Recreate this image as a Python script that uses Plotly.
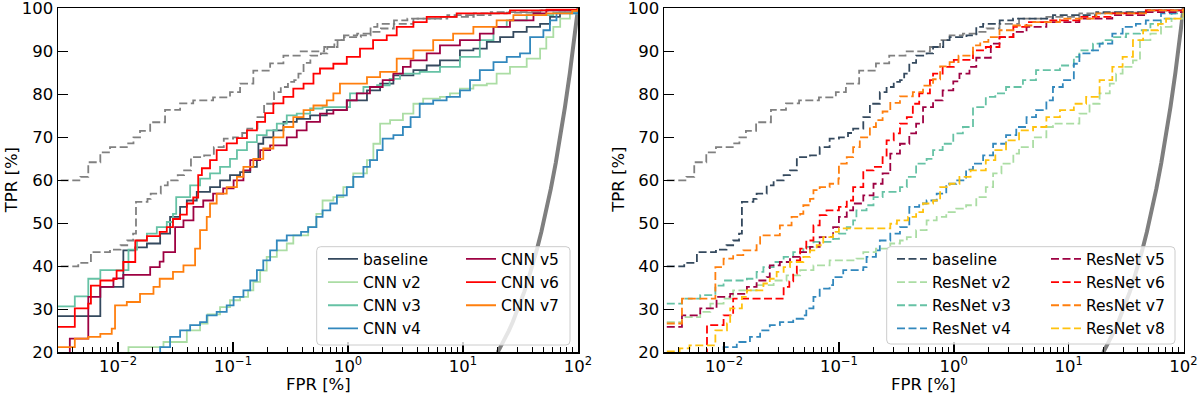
import plotly.graph_objects as go

# ------------------------------------------------------------------ data
# chance line (TPR = FPR)
chance_fpr = [20, 21, 22, 23.5, 25, 27, 29, 31.5, 34, 37, 40, 44, 48, 53, 58, 64, 70, 77, 85, 92, 100]
chance_tpr = [20, 21, 22, 23.5, 25, 27, 29, 31.5, 34, 37, 40, 44, 48, 53, 58, 64, 70, 77, 85, 92, 100]

# grey dashed reference curve (both panels)
ref_fpr = [0.002, 0.0047, 0.0055, 0.007, 0.0085, 0.0119, 0.0136, 0.0155, 0.019, 0.0256,
           0.0346, 0.045, 0.067, 0.094, 0.115, 0.15, 0.21, 0.274, 0.38, 0.62,
           0.76, 0.92, 1.2, 1.58, 1.93, 2.5, 3.7, 6.4, 12.4, 24, 47, 100]
ref_tpr = [60, 60.8, 64.2, 66.5, 67.7, 68.6, 70, 71.5, 73.5, 76.4,
           77.9, 78.6, 79.3, 80.5, 82.5, 85.5, 87.2, 89, 90, 91,
           92.6, 93.7, 94.1, 94.5, 95.3, 96.4, 97.6, 98, 98.8, 99, 99.5, 100]

# ---- CNN models (left panel)
cnn_base_fpr = [0.002, 0.007, 0.0111, 0.0141, 0.0178, 0.0232, 0.0283, 0.0346, 0.0396, 0.0483,
                0.063, 0.077, 0.094, 0.115, 0.141, 0.161, 0.166, 0.183, 0.224, 0.274,
                0.358, 0.468, 0.653, 0.975, 1.46, 1.9, 2.48, 3.7, 4.83, 6.3,
                9.4, 12.3, 16.1, 21, 27.4, 35.8, 46.8, 57.1, 69.7, 100]
cnn_base_tpr = [28.4, 35.2, 43.7, 44.4, 45.3, 47.6, 51.5, 53.8, 55.3, 57.3,
                58.4, 60, 61.2, 61.9, 63.1, 64.7, 68.5, 70, 71.6, 73.6,
                74.3, 75.1, 76.3, 78.6, 80.9, 82.5, 84.4, 85.6, 86.7, 87.9,
                90.2, 90.6, 92.2, 93.3, 94.5, 95.7, 96.4, 98, 99, 100]

cnn_v2_fpr = [0.002, 0.0123, 0.0248, 0.0396, 0.0516, 0.06, 0.077, 0.094, 0.115, 0.135,
              0.15, 0.172, 0.196, 0.24, 0.293, 0.334, 0.45, 0.53, 0.6, 0.745,
              0.91, 1.11, 1.46, 1.66, 1.9, 2.32, 3.0, 3.7, 4.5, 6.3,
              7.7, 9.4, 12.3, 16.1, 19.6, 25.6, 35.8, 46.8, 53, 61,
              70, 85, 100]
cnn_v2_tpr = [15, 21.2, 22.4, 25.1, 26.7, 28.8, 30.5, 32.1, 32.9, 34.4,
              36.4, 39, 42.2, 43.7, 45.3, 47.2, 49.1, 52.2, 55.3, 56.1,
              58.4, 61.6, 64.7, 68.5, 73.2, 74, 75.5, 77.8, 79, 79.4,
              80.2, 81.3, 82.1, 82.5, 84.8, 86.4, 88.3, 90.6, 93.3, 95.7,
              97.6, 98.8, 100]

cnn_v3_fpr = [0.002, 0.0042, 0.0055, 0.0070, 0.0123, 0.0146, 0.0178, 0.0217, 0.0265, 0.030,
              0.032, 0.0423, 0.0516, 0.063, 0.077, 0.094, 0.108, 0.132, 0.161, 0.196,
              0.24, 0.293, 0.358, 0.468, 0.6, 1.04, 1.36, 1.79, 2.3, 2.83,
              4.2, 6.3, 9.4, 14, 18.4, 24, 35.8, 61, 100]
cnn_v3_tpr = [30.7, 33, 37.1, 39.1, 43.9, 46, 47.6, 49.1, 50.3, 52.2,
              56.1, 58.8, 60.4, 61.6, 63.1, 65, 67, 68.9, 70.5, 71.6,
              73.2, 75.1, 75.5, 76.7, 77, 80.2, 81.7, 82.1, 83.6, 84.8,
              85.2, 86.4, 88.7, 92.6, 95.7, 97.2, 98.4, 99, 100]

cnn_v4_fpr = [0.002, 0.0232, 0.0283, 0.0346, 0.0423, 0.0516, 0.059, 0.072, 0.088, 0.101, 0.123,
              0.141, 0.161, 0.183, 0.21, 0.24, 0.293, 0.39, 0.45, 0.53, 0.6,
              0.7, 0.8, 0.975, 1.11, 1.36, 1.55, 1.79, 2.0, 2.48, 3.0,
              3.5, 4.2, 5.5, 7.2, 9.4, 11.5, 14, 18.4, 24, 31.3,
              38.3, 50, 57, 65, 100]
cnn_v4_tpr = [15, 21.2, 23.6, 25.1, 26.3, 27, 28.6, 29.4, 30.9, 32.9, 34.4,
              36.7, 39.1, 41.4, 43.7, 46, 47.2, 48, 49.1, 51.5, 53,
              54.6, 56.5, 58.4, 60.8, 63.1, 64.7, 67, 69.7, 70.5, 72.4,
              74.7, 77.8, 78.6, 79.4, 80.9, 83.3, 85.6, 87.5, 88.7, 89.5,
              93.3, 94.9, 97.2, 98.8, 100]

cnn_v5_fpr = [0.002, 0.0038, 0.0055, 0.0070, 0.0091, 0.0111, 0.019, 0.023, 0.0248, 0.0313,
              0.037, 0.0452, 0.055, 0.067, 0.082, 0.101, 0.123, 0.141, 0.172, 0.21,
              0.293, 0.358, 0.436, 0.57, 0.745, 0.975, 1.19, 1.55, 2.0, 2.48,
              3.0, 3.5, 4.83, 6.3, 9.4, 14, 18.4, 25.6, 41, 53, 100]
cnn_v5_tpr = [18, 23.2, 32.9, 35.2, 37.2, 38, 39.8, 41.1, 43.3, 49.1,
              50.7, 53.8, 55.3, 56.9, 58.1, 60, 62.3, 64.7, 67, 68.1,
              70, 71.6, 73.6, 75.5, 76.3, 78.6, 80.2, 81.7, 83.3, 84.8,
              86.4, 87.9, 89.5, 91.4, 92.6, 94.1, 95.7, 97.2, 98.8, 99.5, 100]

cnn_v6_fpr = [0.002, 0.0042, 0.0055, 0.0058, 0.0070, 0.0091, 0.0097, 0.0111, 0.0141, 0.0178,
              0.023, 0.0265, 0.030, 0.0346, 0.0396, 0.045, 0.0497, 0.0535, 0.063, 0.072,
              0.088, 0.108, 0.132, 0.161, 0.19, 0.224, 0.274, 0.334, 0.41, 0.50,
              0.57, 0.745, 0.975, 1.27, 1.65, 2.17, 2.65, 3.7, 4.83, 8.8,
              25.6, 53.4, 100]
cnn_v6_tpr = [25.9, 30.2, 31.3, 35.5, 36.7, 37, 39, 41, 46, 47,
              48, 49.1, 51, 52, 54.6, 56, 61.2, 62.8, 64.7, 67,
              68.6, 69.8, 71.6, 73.6, 75.6, 77.9, 79.4, 81.3, 82.5, 84.8,
              86, 87.1, 88.7, 90.6, 92.6, 93.7, 95.7, 96.8, 98, 98.8,
              99.5, 99.7, 100]

cnn_v7_fpr = [0.002, 0.0042, 0.0055, 0.007, 0.0088, 0.0094, 0.0119, 0.0155, 0.0203, 0.023,
              0.030, 0.037, 0.0467, 0.0516, 0.059, 0.063, 0.072, 0.088, 0.108, 0.123,
              0.15, 0.183, 0.224, 0.274, 0.334, 0.41, 0.50, 0.653, 0.745, 0.85,
              1.46, 1.9, 2.65, 3.7, 5.5, 8.2, 12.3, 19.6, 27.4, 53,
              89, 100]
cnn_v7_tpr = [21.2, 23.2, 23.6, 24.3, 25.5, 30.9, 31.7, 33.6, 35.2, 37.1,
              38.7, 40.2, 44.1, 48.4, 51.5, 54.6, 56.9, 58.4, 60.8, 63.1,
              65, 67.4, 70, 72.4, 74.7, 76.3, 77.4, 78.6, 80.2, 82.5,
              84, 85.2, 88.3, 90.2, 92.6, 94.1, 95.7, 97.2, 98.4, 98.8,
              99.4, 100]

# ---- ResNet models (right panel)
res_base_fpr = [0.002, 0.0045, 0.0058, 0.0085, 0.0105, 0.012, 0.0135, 0.0143, 0.018, 0.0192,
                0.0235, 0.027, 0.033, 0.0375, 0.043, 0.056, 0.068, 0.083, 0.1, 0.12,
                0.133, 0.163, 0.186, 0.227, 0.26, 0.3, 0.34, 0.37, 0.41, 0.47, 0.58,
                0.66, 0.81, 0.92, 1.29, 1.57, 1.8, 2.51, 3.28, 7.3, 17.4,
                47, 100]
res_base_tpr = [40, 40.8, 43.3, 43.9, 44.9, 46, 47.6, 55, 55.7, 56.9,
                58.8, 60, 61.2, 62.3, 65.4, 65.8, 67.7, 69.7, 70, 71,
                72, 74.7, 77.8, 80.5, 81.7, 82.9, 83.3, 84.8, 87.3, 89, 89.5,
                91, 92.6, 93.3, 93.7, 95.7, 96.4, 97.2, 97.6, 98.4, 99.1,
                99.5, 100]

res_v2_fpr = [0.002, 0.0043, 0.0062, 0.0076, 0.0099, 0.012, 0.0192, 0.027, 0.035, 0.046,
              0.06, 0.083, 0.142, 0.163, 0.21, 0.28, 0.34, 0.39, 0.47, 0.58,
              0.71, 0.86, 1.05, 1.28, 1.57, 1.9, 2.2, 2.6, 3.3, 3.7,
              4.9, 6.4, 7.3, 12.4, 15.2, 18.6, 22.8, 25.9, 29.5, 36.3,
              41.8, 51.5, 63.7, 78.7, 100]
res_v2_tpr = [27, 28.2, 29.4, 31.3, 32.5, 34.4, 35.6, 36.7, 37.9, 39.1,
              40.2, 41.4, 41.8, 43.3, 44.1, 45.3, 46, 46.8, 48.4, 50.7,
              51.5, 52.6, 53.4, 54.2, 56.1, 58.4, 61.6, 63.9, 66.2, 67.7,
              70, 72.4, 73.2, 75.5, 77.8, 80.2, 82.5, 84.8, 86.4, 87.9,
              92.6, 94.1, 95.7, 97.6, 100]

res_v3_fpr = [0.002, 0.0043, 0.0062, 0.0084, 0.0099, 0.0158, 0.0192, 0.022, 0.027, 0.033,
              0.04, 0.049, 0.06, 0.089, 0.1, 0.117, 0.133, 0.142, 0.174, 0.2,
              0.24, 0.34, 0.39, 0.47, 0.58, 0.66, 0.8, 0.99, 1.2, 1.47,
              1.9, 2.3, 2.85, 4.0, 5.2, 8.4, 11.1, 12.4, 16.3, 19.8,
              24, 31.6, 41.8, 51.5, 63.7, 78.7, 100]
res_v3_tpr = [31.3, 32.5, 33.3, 35.5, 36.7, 37.1, 38.7, 39.8, 41, 42.2,
              43.3, 44.5, 45.7, 46.4, 47.6, 49.1, 50.7, 53, 54.2, 56.1,
              57.3, 58.4, 60.8, 63.9, 65, 67, 68.5, 70.9, 72.4, 77,
              79.4, 80.2, 81.7, 83.3, 85.6, 86.7, 88.7, 90.2, 91.8, 92.6,
              93.3, 94.1, 94.9, 96.4, 97.6, 98.8, 100]

res_v4_fpr = [0.002, 0.0099, 0.0129, 0.0168, 0.0206, 0.025, 0.0306, 0.04, 0.049, 0.052, 0.06,
              0.068, 0.083, 0.089, 0.109, 0.163, 0.174, 0.21, 0.227, 0.28, 0.34,
              0.41, 0.5, 0.58, 0.71, 0.86, 1.05, 1.28, 1.47, 1.8, 2.2,
              2.85, 3.5, 4.3, 5.2, 6.4, 7.3, 8.9, 11.1, 12.4, 15.2,
              18.6, 24, 29.5, 38.5, 47, 63.7, 85, 100]
res_v4_tpr = [15, 21.2, 22.4, 23.6, 25.1, 26.3, 27, 27.8, 28.6, 30.2, 32.9,
              34.8, 35.6, 37.5, 39.1, 39.8, 42.2, 43.7, 46, 47.6, 49.1,
              53.8, 54.6, 55.3, 56.9, 59.2, 60, 62.5, 63.9, 65.8, 68.5,
              70.5, 72.4, 74.7, 76.3, 78.6, 81.7, 83.3, 87.1, 89.5, 90.2,
              91.8, 94.1, 95.7, 96.4, 97.2, 98.8, 99.5, 100]

res_v5_fpr = [0.002, 0.0043, 0.0062, 0.0086, 0.0113, 0.0158, 0.0192, 0.0235, 0.025, 0.0306,
              0.0375, 0.046, 0.056, 0.068, 0.089, 0.1, 0.117, 0.133, 0.163, 0.2,
              0.24, 0.28, 0.34, 0.41, 0.47, 0.54, 0.66, 0.8, 0.99, 1.12,
              1.37, 1.57, 2.1, 2.5, 3.3, 4.3, 6.4, 12.4, 24, 47, 100]
res_v5_tpr = [25.9, 28.6, 30.2, 32.9, 33.6, 35.2, 36.7, 37.5, 40.2, 41,
              42.2, 43.3, 44.5, 46.8, 49.1, 51.5, 53, 54.6, 56.5, 59.2,
              61.6, 66.2, 68.5, 70.9, 73.2, 77, 78.6, 80.9, 83, 84.8,
              86.4, 88.5, 91.8, 93.3, 94.5, 95.7, 96.8, 97.6, 98.4, 99.1, 100]

res_v6_fpr = [0.002, 0.0071, 0.0099, 0.012, 0.033, 0.037, 0.04, 0.043, 0.046, 0.052,
              0.06, 0.068, 0.078, 0.1, 0.117, 0.133, 0.163, 0.2, 0.24, 0.26,
              0.3, 0.34, 0.39, 0.44, 0.5, 0.62, 0.66, 0.8, 1.0, 1.47,
              1.9, 2.5, 3.3, 4.3, 6.4, 12.4, 24, 47, 100]
res_v6_tpr = [15, 26.3, 28.6, 32.5, 35.2, 36.5, 38.3, 41.4, 44.1, 46,
              49.5, 51.9, 53, 53.8, 55.3, 58.4, 62.3, 63.1, 65.4, 69.3,
              70.9, 73.2, 74.7, 77.8, 80.2, 83.3, 84.8, 86.4, 88, 90.2,
              91, 93.3, 95.7, 96.8, 97.2, 98, 98.8, 99.5, 100]

res_v7_fpr = [0.002, 0.0043, 0.0084, 0.0099, 0.012, 0.0147, 0.0192, 0.0206, 0.0306, 0.0387,
              0.046, 0.049, 0.056, 0.06, 0.068, 0.083, 0.099, 0.1, 0.117, 0.133,
              0.152, 0.186, 0.21, 0.24, 0.28, 0.34, 0.44, 0.54, 0.66, 0.76,
              0.92, 1.1, 1.47, 1.7, 2.0, 2.5, 3.3, 4.9, 8.4, 17.4,
              47, 100]
res_v7_tpr = [26.7, 32.5, 39.8, 41.8, 42.6, 43.7, 45.3, 47.2, 49.5, 51.5,
              52.2, 54.2, 55.7, 57.7, 58.4, 59.2, 60.4, 63.9, 65.4, 67.7,
              70, 72.4, 74, 76, 78, 79.5, 80.5, 82, 83.5, 86.5,
              87.5, 89, 91.4, 92.2, 93.3, 94.9, 96, 96.8, 97.6, 98.8,
              99.5, 100]

res_v8_fpr = [0.002, 0.0041, 0.005, 0.0084, 0.0106, 0.0113, 0.0143, 0.0158, 0.022, 0.025,
              0.0287, 0.033, 0.0375, 0.049, 0.056, 0.064, 0.073, 0.089, 0.1, 0.28,
              0.32, 0.4, 0.47, 0.54, 0.66, 0.76, 0.92, 1.12, 1.4, 1.9,
              2.3, 2.85, 3.7, 4.9, 6.4, 8.4, 11.1, 14.2, 18.6, 24,
              29.5, 36.3, 44.5, 60, 70.5, 100]
res_v8_tpr = [20.2, 20.9, 21.6, 25.1, 26.7, 30.2, 32.9, 34.4, 36, 37.1,
              38.7, 39.8, 41, 42.2, 43.7, 44.9, 46.8, 48, 48.8, 49.9,
              50.7, 51.5, 52.6, 54.6, 55.3, 58.4, 59.2, 60.8, 62.3, 64.7,
              67, 69.3, 71.6, 72.4, 74.7, 76.3, 77.8, 79.4, 83.3, 86.4,
              88.7, 92.6, 94.9, 96.4, 97.6, 100]

x_tickvals = [0.01, 0.1, 1, 10, 100]
x_ticktext = ["10<sup>−2</sup>", "10<sup>−1</sup>", "10<sup>0</sup>", "10<sup>1</sup>", "10<sup>2</sup>"]
y_tickvals = [20, 30, 40, 50, 60, 70, 80, 90, 100]

# ------------------------------------------------------------------ style
W, H = 1200, 395
FONT = "DejaVu Sans"
C = {"base": "#34495e", "v2": "#abdda4", "v3": "#66c2a5", "v4": "#3288bd",
     "v5": "#9e0142", "v6": "#ff0000", "v7": "#ff7f0e", "v8": "#ffc20e"}
GREY = "#808080"
DASH = "8px,3.5px"
LW = 1.8


def px(p):
    return p / W


def py(p):
    return 1 - p / H


fig = go.Figure()


def add_curve(x, y, color, dash, name, panel, legend=None, show=False, width=LW, shape="hv"):
    fig.add_trace(go.Scatter(
        x=x, y=y, mode="lines", name=name,
        xaxis="x" if panel == 1 else "x2", yaxis="y" if panel == 1 else "y2",
        line=dict(color=color, width=width, dash=dash, shape=shape),
        showlegend=show, legend=legend if legend else "legend", hoverinfo="skip"))


# chance line
for panel in (1, 2):
    add_curve(chance_fpr, chance_tpr, "#7f7f7f", "solid", "chance", panel, width=4, shape="linear")

# left panel
add_curve(ref_fpr, ref_tpr, GREY, DASH, "reference", 1)
add_curve(res_base_fpr, res_base_tpr, GREY, DASH, "ResNet baseline", 1)
add_curve(cnn_base_fpr, cnn_base_tpr, C["base"], "solid", "baseline", 1, "legend", True)
add_curve(cnn_v2_fpr, cnn_v2_tpr, C["v2"], "solid", "CNN v2", 1, "legend", True)
add_curve(cnn_v3_fpr, cnn_v3_tpr, C["v3"], "solid", "CNN v3", 1, "legend", True)
add_curve(cnn_v4_fpr, cnn_v4_tpr, C["v4"], "solid", "CNN v4", 1, "legend", True)
add_curve(cnn_v5_fpr, cnn_v5_tpr, C["v5"], "solid", "CNN v5", 1, "legend2", True)
add_curve(cnn_v6_fpr, cnn_v6_tpr, C["v6"], "solid", "CNN v6", 1, "legend2", True)
add_curve(cnn_v7_fpr, cnn_v7_tpr, C["v7"], "solid", "CNN v7", 1, "legend2", True)

# right panel
add_curve(ref_fpr, ref_tpr, GREY, DASH, "reference", 2)
add_curve(res_base_fpr, res_base_tpr, C["base"], DASH, "baseline", 2, "legend3", True)
add_curve(res_v2_fpr, res_v2_tpr, C["v2"], DASH, "ResNet v2", 2, "legend3", True)
add_curve(res_v3_fpr, res_v3_tpr, C["v3"], DASH, "ResNet v3", 2, "legend3", True)
add_curve(res_v4_fpr, res_v4_tpr, C["v4"], DASH, "ResNet v4", 2, "legend3", True)
add_curve(res_v5_fpr, res_v5_tpr, C["v5"], DASH, "ResNet v5", 2, "legend4", True)
add_curve(res_v6_fpr, res_v6_tpr, C["v6"], DASH, "ResNet v6", 2, "legend4", True)
add_curve(res_v7_fpr, res_v7_tpr, C["v7"], DASH, "ResNet v7", 2, "legend4", True)
add_curve(res_v8_fpr, res_v8_tpr, C["v8"], DASH, "ResNet v8", 2, "legend4", True)

minor_vals = [m * 10 ** e for e in (-3, -2, -1, 0, 1) for m in range(2, 10)]

xax = dict(type="log", range=[-2.523, 2.0], showline=True, linecolor="black", linewidth=1.5,
           mirror=True, ticks="inside", ticklen=10, tickwidth=1.5, tickcolor="black",
           tickmode="array", tickvals=x_tickvals, ticktext=x_ticktext,
           minor=dict(ticks="inside", ticklen=5, tickwidth=1, tickcolor="black",
                      tickmode="array", tickvals=minor_vals, showgrid=False),
           showgrid=False, zeroline=False, ticklabeloverflow="allow",
           ticklabelstandoff=-2, automargin=False,
           tickfont=dict(family=FONT, size=16.5, color="black"))
yax = dict(range=[20, 100], showline=True, linecolor="black", linewidth=1.5, mirror=True,
           ticks="inside", ticklen=10, tickwidth=1.5, tickcolor="black",
           tickmode="array", tickvals=y_tickvals, showgrid=False, zeroline=False,
           ticklabeloverflow="allow", automargin=False,
           tickfont=dict(family=FONT, size=16.5, color="black"))

ydom = [py(352.3), py(8.3)]
leg_common = dict(xanchor="left", yanchor="top", bgcolor="rgba(0,0,0,0)", borderwidth=0,
                  font=dict(family=FONT, size=15.5, color="black"), tracegroupgap=0,
                  itemwidth=30, orientation="v")


def rrect(x0, y0, x1, y1, r=4):
    rx, ry = r / W, r / H
    X0, X1, Y0, Y1 = px(x0), px(x1), py(y0), py(y1)
    return (f"M {X0+rx},{Y0} L {X1-rx},{Y0} Q {X1},{Y0} {X1},{Y0-ry} "
            f"L {X1},{Y1+ry} Q {X1},{Y1} {X1-rx},{Y1} L {X0+rx},{Y1} "
            f"Q {X0},{Y1} {X0},{Y1+ry} L {X0},{Y0-ry} Q {X0},{Y0} {X0+rx},{Y0} Z")


shapes = [
    dict(type="path", xref="paper", yref="paper", path=rrect(316.7, 246.7, 570, 345),
         line=dict(color="#cccccc", width=1), fillcolor="rgba(255,255,255,0.8)", layer="above"),
    dict(type="path", xref="paper", yref="paper", path=rrect(886.7, 246.7, 1175, 344),
         line=dict(color="#cccccc", width=1), fillcolor="rgba(255,255,255,0.8)", layer="above"),
]

ann_font = dict(family=FONT, size=16.5, color="black")
annotations = [
    dict(text="FPR [%]", x=px(318), y=py(384), xref="paper", yref="paper", showarrow=False,
         xanchor="center", yanchor="middle", font=ann_font),
    dict(text="FPR [%]", x=px(923.5), y=py(384), xref="paper", yref="paper", showarrow=False,
         xanchor="center", yanchor="middle", font=ann_font),
    dict(text="TPR [%]", x=px(11), y=py(180.3), xref="paper", yref="paper", showarrow=False,
         xanchor="center", yanchor="middle", textangle=-90, font=ann_font),
    dict(text="TPR [%]", x=px(618.5), y=py(180.3), xref="paper", yref="paper", showarrow=False,
         xanchor="center", yanchor="middle", textangle=-90, font=ann_font),
]

fig.update_layout(
    width=W, height=H, margin=dict(l=0, r=0, t=0, b=0, autoexpand=False),
    paper_bgcolor="white", plot_bgcolor="white",
    font=dict(family=FONT, color="black"),
    xaxis=dict(domain=[px(58), px(578)], anchor="y", **xax),
    yaxis=dict(domain=ydom, anchor="x", **yax),
    xaxis2=dict(domain=[px(664), px(1183.5)], anchor="y2", **xax),
    yaxis2=dict(domain=ydom, anchor="x2", **yax),
    legend=dict(x=px(323), y=py(242.4), **leg_common),
    legend2=dict(x=px(461), y=py(242.4), **leg_common),
    legend3=dict(x=px(892), y=py(242.4), **leg_common),
    legend4=dict(x=px(1046), y=py(242.4), **leg_common),
    shapes=shapes, annotations=annotations,
    hovermode=False,
)

fig.write_html("out.html",
               config={"displayModeBar": False, "staticPlot": True},
               post_script="document.body.style.margin='0px';document.body.style.padding='0px';")
